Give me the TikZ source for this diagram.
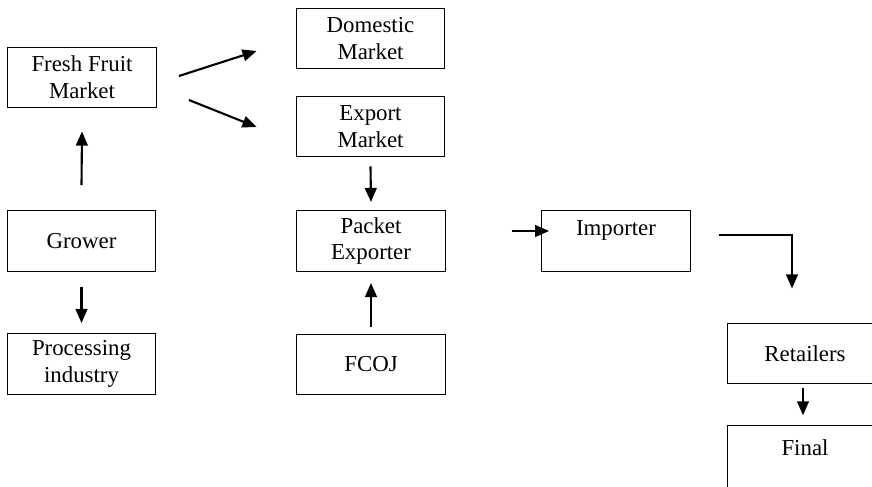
\documentclass[tikz,border=0pt]{standalone}
\usepackage{fontspec}
\setmainfont{Liberation Serif}
\usetikzlibrary{arrows.meta,calc}

\begin{document}
\begin{tikzpicture}[x=0.3mm,y=-0.3mm,
  box/.style={draw,line width=0.9pt,minimum width=127pt,minimum height=52pt,
    inner sep=0pt,align=center,font=\fontsize{19.5}{23}\selectfont},
  arr/.style={line width=1.8pt,-{Triangle[length=12pt,width=10pt]}}]
\useasboundingbox (0,0) rectangle (872,486);
\node [box] (ffm) at (82,77.5) {Fresh Fruit\\Market};
\node [box] (dom) at (370.5,38.5) {Domestic\\Market};
\node [box] (exp) at (370.5,126.5) {Export\\Market};
\node [box] (pack) at (371,241) {Packet\\Exporter};
\node [box] (fcoj) at (371,364.5) {FCOJ};
\node [box] (imp) at (616,241) {Importer\\\mbox{}};
\node [box,minimum width=132pt] (ret) at (805,353.5) {Retailers};
\node [box,minimum width=132pt,minimum height=60pt] (fin) at (805,461) {Final\\\mbox{}};
\node [box] (grow) at (81.5,241) {Grower};
\node [box] (proc) at (81.5,364) {Processing\\industry};
% arrows
\draw [arr] ($(grow.north)+(0,-25)$) -- ($(ffm.south)+(0,23)$);
\draw [arr] ($(grow.south)+(0,15)$) -- ($(proc.north)+(0,-10)$);
\draw [arr] ($(ffm.east)+(22,-1.5)$) -- ($(dom.west)+(-39,12.5)$);
\draw [arr] ($(ffm.east)+(32,22.5)$) -- ($(exp.west)+(-39,0.5)$);
\draw [arr] ($(exp.south)+(0,9)$) -- ($(pack.north)+(0,-8)$);
\draw [arr] ($(fcoj.north)+(0,-7)$) -- ($(pack.south)+(0,11)$);
\draw [arr] ($(pack.east)+(66,-10)$) -- ($(imp.west)+(8,-10)$);
\draw [arr] ($(imp.east)+(28,-6)$) -| ($(ret.north)+(-13,-34)$);
\draw [arr] ($(ret.south)+(-2,4)$) -- ($(fin.north)+(-2,-10)$);
\end{tikzpicture}
\end{document}
